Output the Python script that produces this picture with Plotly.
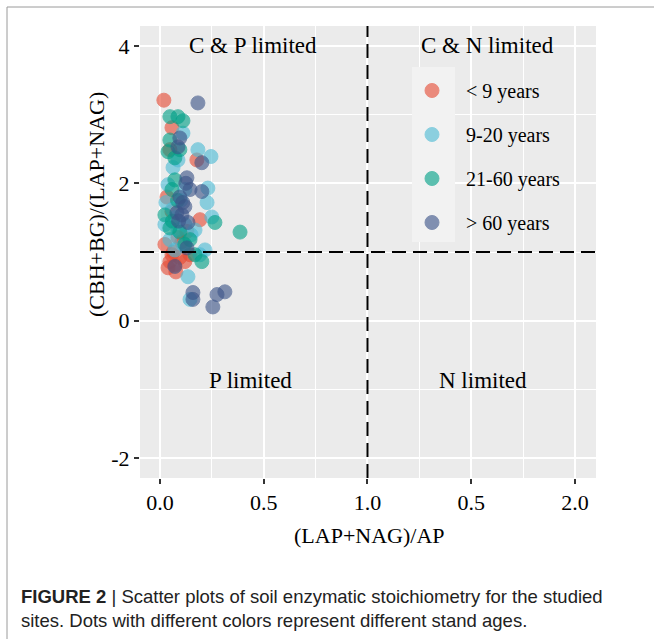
import plotly.graph_objects as go

# ---- data ----
groups = ["< 9 years", "9-20 years", "21-60 years", "> 60 years"]
colors = ["#E64B35", "#4DBBD5", "#00A087", "#3C5488"]

red_x = [0.019, 0.058, 0.048, 0.034, 0.058, 0.178, 0.193, 0.087, 0.048, 0.072, 0.096, 0.039, 0.077, 0.120, 0.058, 0.145, 0.024, 0.106, 0.130, 0.065]
red_y = [3.21, 2.81, 2.49, 1.80, 1.59, 2.34, 1.47, 1.21, 0.86, 0.81, 0.92, 0.77, 0.71, 0.86, 0.96, 0.96, 1.11, 1.15, 1.30, 1.00]

lblue_x = [0.111, 0.183, 0.246, 0.063, 0.039, 0.029, 0.231, 0.227, 0.169, 0.120, 0.087, 0.048, 0.217, 0.193, 0.135, 0.145, 0.250, 0.024, 0.072, 0.120, 0.087, 0.100, 0.060, 0.150, 0.115, 0.075]
lblue_y = [2.73, 2.49, 2.39, 2.23, 1.98, 1.72, 1.93, 1.72, 1.32, 1.40, 1.32, 1.18, 1.03, 0.96, 0.64, 0.31, 1.51, 1.40, 1.03, 1.91, 2.34, 1.75, 1.62, 1.25, 1.10, 1.50]

green_x = [0.048, 0.087, 0.111, 0.048, 0.039, 0.072, 0.096, 0.058, 0.024, 0.048, 0.096, 0.120, 0.265, 0.386, 0.202, 0.169, 0.072, 0.145, 0.085, 0.060]
green_y = [2.97, 2.97, 2.91, 2.63, 2.46, 2.37, 2.49, 1.91, 1.54, 1.35, 1.29, 1.11, 1.43, 1.29, 0.86, 0.96, 2.05, 1.18, 1.75, 1.45]

dblue_x = [0.183, 0.096, 0.087, 0.202, 0.130, 0.096, 0.202, 0.120, 0.082, 0.135, 0.130, 0.159, 0.159, 0.275, 0.313, 0.255, 0.072, 0.145, 0.106, 0.110, 0.090, 0.125]
dblue_y = [3.17, 2.66, 2.53, 2.30, 2.08, 1.80, 1.88, 1.66, 1.57, 1.43, 1.06, 0.41, 0.31, 0.38, 0.42, 0.20, 0.79, 1.91, 1.54, 1.72, 1.45, 2.00]

series_x = [red_x, lblue_x, green_x, dblue_x]
series_y = [red_y, lblue_y, green_y, dblue_y]

x_tickvals = [0.0, 0.5, 1.0, 1.5, 2.0]
x_ticktext = ["0.0", "0.5", "1.0", "0.5", "2.0"]
y_tickvals = [-2, 0, 2, 4]
y_ticktext = ["-2", "0", "2", "4"]

quadrant_labels = ["C & P limited", "C & N limited", "P limited", "N limited"]
x_title = "(LAP+NAG)/AP"
y_title = "(CBH+BG)/(LAP+NAG)"
caption1 = "<b>FIGURE 2</b> | Scatter plots of soil enzymatic stoichiometry for the studied"
caption2 = "sites. Dots with different colors represent different stand ages."

# ---- layout geometry (pixels) ----
W, H = 654, 639
L, R, T, B = 140, 596, 26, 478


def px(xp):
    return (xp - L) / (R - L)


def py(yp):
    return (B - yp) / (B - T)


SERIF = "Liberation Serif, Times New Roman, serif"
SANS = "Liberation Sans, Arial, sans-serif"

fig = go.Figure()
for name, col, xs, ys in zip(groups, colors, series_x, series_y):
    fig.add_trace(go.Scatter(
        x=xs, y=ys, mode="markers", name=name, legendgroup=name,
        marker=dict(size=14, color=col, opacity=0.62, line=dict(color=col, width=1)),
    ))

shapes = [
    # legend key background
    dict(type="rect", xref="paper", yref="paper", x0=px(412), x1=px(455), y0=py(242), y1=py(67),
         fillcolor="#F2F2F2", line=dict(width=0), layer="above"),
    # reference lines
    dict(type="line", xref="x", yref="paper", x0=1, x1=1, y0=0, y1=1,
         line=dict(color="black", width=2, dash="14px,7px"), layer="above"),
    dict(type="line", xref="paper", yref="y", x0=0, x1=1, y0=1, y1=1,
         line=dict(color="black", width=2, dash="14px,7px"), layer="above"),
    # figure frame (top and left)
    dict(type="line", xref="paper", yref="paper", x0=px(7), x1=px(660), y0=py(7), y1=py(7),
         line=dict(color="#9a9a9a", width=1), layer="above"),
    dict(type="line", xref="paper", yref="paper", x0=px(7), x1=px(7), y0=py(7), y1=py(645),
         line=dict(color="#9a9a9a", width=1), layer="above"),
]

ann = []
for text, xv, yv in zip(quadrant_labels, [0.448, 1.576, 0.434, 1.557], [4.0, 4.0, -0.873, -0.873]):
    ann.append(dict(x=xv, y=yv, xref="x", yref="y", text=text, showarrow=False,
                    xanchor="center", yanchor="middle",
                    font=dict(family=SERIF, size=23, color="black")))
ann.append(dict(x=px(369), y=py(535), xref="paper", yref="paper", text=x_title, showarrow=False,
                xanchor="center", yanchor="middle",
                font=dict(family=SERIF, size=22, color="black")))
ann.append(dict(x=px(96), y=py(205), xref="paper", yref="paper", text=y_title, showarrow=False,
                xanchor="center", yanchor="middle",
                textangle=-90, font=dict(family=SERIF, size=22, color="black")))
ann.append(dict(x=px(19), y=py(596), xref="paper", yref="paper", text=caption1, showarrow=False,
                xanchor="left", yanchor="middle", font=dict(family=SANS, size=18.5, color="#222222")))
ann.append(dict(x=px(19), y=py(620), xref="paper", yref="paper", text=caption2, showarrow=False,
                xanchor="left", yanchor="middle", font=dict(family=SANS, size=18.5, color="#222222")))

ITEMW = 58
fig.update_layout(
    width=W, height=H,
    margin=dict(l=L, r=W - R, t=T, b=H - B, pad=0),
    paper_bgcolor="white", plot_bgcolor="#EBEBEB",
    font=dict(family=SERIF, size=20, color="black"),
    showlegend=True,
    legend=dict(x=px(432 - (ITEMW / 2 + 5)), y=py(71), xanchor="left", yanchor="top",
                bgcolor="rgba(0,0,0,0)", font=dict(family=SERIF, size=20, color="black"),
                tracegroupgap=15, itemsizing="trace", itemwidth=ITEMW),
    shapes=shapes, annotations=ann,
    xaxis=dict(range=[-0.096, 2.101], tickvals=x_tickvals, ticktext=x_ticktext,
               showgrid=True, gridcolor="white", gridwidth=1.5, zeroline=False,
               minor=dict(dtick=0.25, tick0=0, showgrid=True, gridcolor="white", gridwidth=0.7),
               ticks="outside", ticklen=5, tickwidth=1.5, tickcolor="#333333",
               tickfont=dict(family=SERIF, size=22, color="black"), showline=False),
    yaxis=dict(range=[-2.29, 4.29], tickvals=y_tickvals, ticktext=y_ticktext,
               showgrid=True, gridcolor="white", gridwidth=1.5, zeroline=False,
               minor=dict(dtick=1, tick0=0, showgrid=True, gridcolor="white", gridwidth=0.7),
               ticks="outside", ticklen=5, tickwidth=1.5, tickcolor="#333333",
               tickfont=dict(family=SERIF, size=22, color="black"), showline=False),
)

fig.write_html("out.html", config={"displayModeBar": False},
               post_script="document.body.style.margin='0';")
